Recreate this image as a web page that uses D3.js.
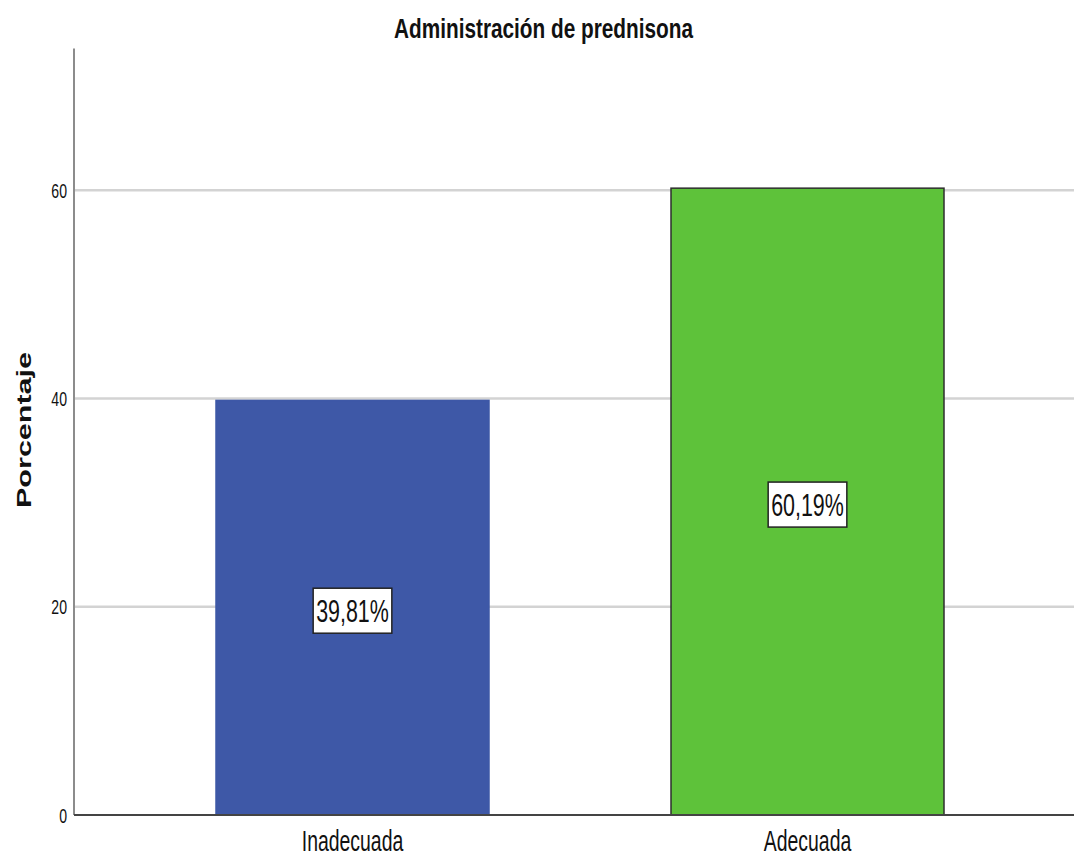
<!DOCTYPE html>
<html>
<head>
<meta charset="utf-8">
<script src="https://cdn.jsdelivr.net/npm/d3@7"></script>
<style>
  html, body { margin: 0; padding: 0; background: #fff; }
  svg { display: block; }
  text { font-family: "Liberation Sans", Arial, sans-serif; fill: #111; }
</style>
</head>
<body>
<svg id="chart" width="1074" height="856"></svg>
<script>
// Categories and percentages
const categories = ["Inadecuada", "Adecuada"];
const percentages = [39.81, 60.19];
const valueLabels = ["39,81%", "60,19%"];
const yTicks = [0, 20, 40, 60];
const titleText = "Administración de prednisona";
const yAxisTitle = "Porcentaje";

// Styling
const barFill = ["#3e58a7", "#5ec23a"];
const barStroke = ["#3e58a7", "#2e2e2e"];
const SX = 0.67;          // horizontal condensing of all type
const yMax = 73.6;

const plot = { left: 74, right: 1074, top: 48.5, bottom: 815 };

const svg = d3.select("#chart");

const x = d3.scaleBand()
  .domain(categories)
  .range([125, 1035])
  .paddingInner(0.4)
  .paddingOuter(0.2);

const y = d3.scaleLinear()
  .domain([0, yMax])
  .range([plot.bottom, plot.top]);

// Condensed text helper; width is the on-screen run length of the text
function label(g, str, px, py, size, anchor, weight, rotate, width) {
  const t = g.append("g")
    .attr("transform", `translate(${px},${py}) scale(${SX},1)` + (rotate ? " rotate(-90)" : ""))
    .append("text")
    .attr("text-anchor", anchor)
    .attr("font-size", size)
    .attr("font-weight", weight || "normal")
    .text(str);
  if (width) {
    t.attr("textLength", rotate ? width : width / SX).attr("lengthAdjust", "spacingAndGlyphs");
  }
  return t;
}

// Gridlines
svg.append("g")
  .selectAll("line")
  .data(yTicks.filter(d => d > 0))
  .join("line")
  .attr("x1", plot.left).attr("x2", plot.right)
  .attr("y1", d => y(d)).attr("y2", d => y(d))
  .attr("stroke", "#d3d3d3")
  .attr("stroke-width", 2.5);

// Bars
svg.append("g")
  .selectAll("rect")
  .data(categories)
  .join("rect")
  .attr("x", d => x(d))
  .attr("width", x.bandwidth())
  .attr("y", (d, i) => y(percentages[i]))
  .attr("height", (d, i) => y(0) - y(percentages[i]))
  .attr("fill", (d, i) => barFill[i])
  .attr("stroke", (d, i) => barStroke[i])
  .attr("stroke-width", 1.5);

// Y axis line and baseline
svg.append("line")
  .attr("x1", plot.left).attr("x2", plot.left)
  .attr("y1", plot.top).attr("y2", plot.bottom)
  .attr("stroke", "#8c8c8c").attr("stroke-width", 2);
svg.append("line")
  .attr("x1", plot.left).attr("x2", plot.right)
  .attr("y1", plot.bottom).attr("y2", plot.bottom)
  .attr("stroke", "#444").attr("stroke-width", 2);

// Y tick labels
const yt = svg.append("g");
yTicks.forEach(v => {
  label(yt, String(v), 67, y(v) + 7.5, 21, "end");
});

// X category labels
const xt = svg.append("g");
categories.forEach(c => {
  label(xt, c, x(c) + x.bandwidth() / 2, 851, 29, "middle");
});

// Value labels in boxes
const vl = svg.append("g");
categories.forEach((c, i) => {
  const cx = x(c) + x.bandwidth() / 2;
  const cy = y(percentages[i] / 2) + 3;
  const fs = 32;
  const g = vl.append("g");
  const t = label(g, valueLabels[i], cx, cy + 11.5, fs, "middle");
  const w = t.node().getComputedTextLength() * SX + 6;
  const h = 45;
  g.insert("rect", ":first-child")
    .attr("x", cx - w / 2).attr("y", cy - h / 2)
    .attr("width", w).attr("height", h)
    .attr("fill", "#fff")
    .attr("stroke", "#222").attr("stroke-width", 1.5);
});

// Title
label(svg, titleText, 543.5, 38, 28, "middle", "bold", false, 299);

// Y axis title
label(svg, yAxisTitle, 31, 430, 30, "middle", "bold", true, 156);
</script>
</body>
</html>
